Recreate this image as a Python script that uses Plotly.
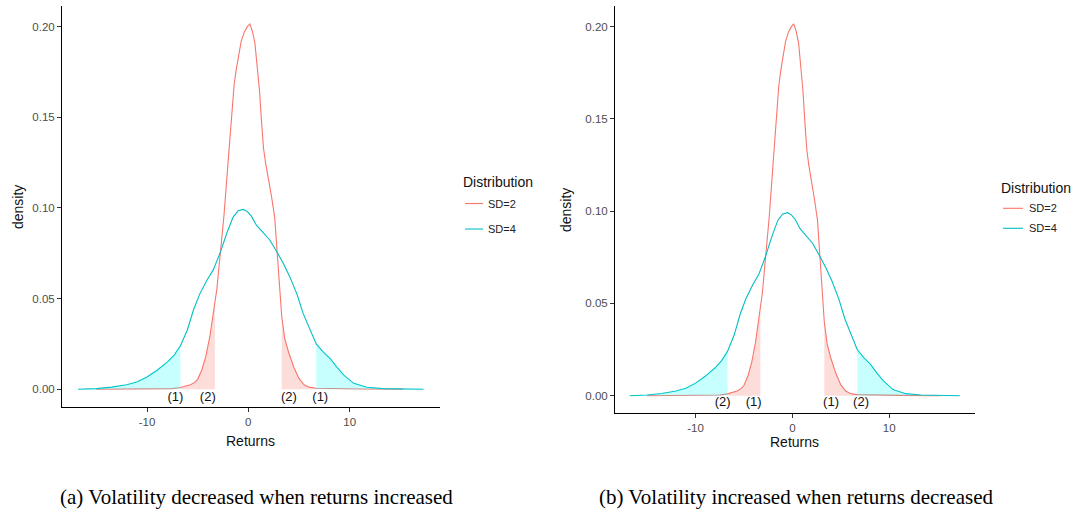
import numpy as np
import plotly.graph_objects as go

W, H = 1085, 509

# ---------------- data ----------------
series_names = ["SD=2", "SD=4"]
series_colors = ["#F8766D", "#00BFC4"]
fill_colors = ["rgba(248,118,109,0.25)", "rgba(0,255,255,0.22)"]

sd2_x = [-15.0, -12.0, -9.0, -7.5, -6.7, -6.2, -5.7, -5.3, -5.0, -4.6, -4.2, -3.8, -3.5, -3.3,
         -3.1, -2.8, -2.4, -2.0, -1.7, -1.4, -1.2, -1.0, -0.7, -0.4, -0.1, 0.15, 0.4, 0.65,
         0.9, 1.1, 1.3, 1.5, 1.7, 2.0, 2.3, 2.6, 2.8, 3.0, 3.3, 3.6, 4.0, 4.5, 5.0, 5.5,
         6.0, 6.7, 8.0, 11.0, 15.3]
sd2_y = [0.0000, 0.0002, 0.0003, 0.0004, 0.0010, 0.0018, 0.0025, 0.0038, 0.0055, 0.0105, 0.0180,
         0.0290, 0.0400, 0.0470, 0.0555, 0.0730, 0.0960, 0.1250, 0.1480, 0.1680, 0.1760, 0.1830,
         0.1920, 0.1970, 0.2000, 0.2015, 0.1975, 0.1910, 0.1770, 0.1650, 0.1480, 0.1330, 0.1250,
         0.1160, 0.1060, 0.0950, 0.0800, 0.0620, 0.0400, 0.0280, 0.0200, 0.0120, 0.0060, 0.0025,
         0.0012, 0.0006, 0.0004, 0.0002, 0.0000]

sd4_x = [-16.8, -15.0, -13.5, -12.0, -11.0, -10.0, -9.0, -8.0, -7.3, -6.7, -6.0, -5.4, -4.8,
         -4.1, -3.45, -2.8, -2.1, -1.5, -1.0, -0.5, -0.1, 0.3, 0.8, 1.5, 2.1, 2.8, 3.45, 4.1,
         4.8, 5.4, 6.1, 6.7, 7.4, 8.1, 8.7, 9.4, 10.4, 11.7, 13.3, 15.0, 16.0, 17.3]
sd4_y = [0.0000, 0.0004, 0.0012, 0.0025, 0.0040, 0.0068, 0.0105, 0.0150, 0.0190, 0.0240, 0.0330,
         0.0440, 0.0525, 0.0600, 0.0660, 0.0750, 0.0865, 0.0950, 0.0985, 0.0992, 0.0980, 0.0955,
         0.0905, 0.0860, 0.0825, 0.0760, 0.0695, 0.0620, 0.0525, 0.0420, 0.0325, 0.0250, 0.0205,
         0.0168, 0.0125, 0.0080, 0.0033, 0.0011, 0.0004, 0.0003, 0.0001, 0.0000]

# tail thresholds for shading
inner_cut = 3.3
outer_cut = 6.7

# tail labels
label_x = [-7.2, -4.0, 4.0, 7.1]
labels_a = ["(1)", "(2)", "(2)", "(1)"]
labels_b = ["(2)", "(1)", "(1)", "(2)"]

captions = ["(a) Volatility decreased when returns increased",
            "(b) Volatility increased when returns decreased"]

x_ticks = [-10, 0, 10]
x_tick_text = ["-10", "0", "10"]
y_ticks = [0.00, 0.05, 0.10, 0.15, 0.20]
legend_title = "Distribution"

# ---------------- layout geometry (pixels) ----------------
panels = [
    dict(x0=62, x1=440, y0=6, y1=407, xr=[-18.39, 18.92], yr=[-0.00976, 0.2114],
         labels=labels_a, label_y=-0.0048, caption_x=256,
         ytitle=(18, 207), xtitle=(250, 441),
         leg=dict(tx=463, ty=182, lx0=465, lx1=483, ly=[203.5, 229], textx=488)),
    dict(x0=615, x1=975, y0=6, y1=413.3, xr=[-18.32, 18.87], yr=[-0.00954, 0.2112],
         labels=labels_b, label_y=-0.0038, caption_x=796,
         ytitle=(566, 210), xtitle=(794, 442),
         leg=dict(tx=1001, ty=188, lx0=1003, lx1=1023, ly=[208.3, 228.3], textx=1029)),
]


def px(x):
    return x / W


def py(y):
    return 1 - y / H


fig = go.Figure()
annotations = []
shapes = []

curves = [(np.array(sd2_x), np.array(sd2_y)), (np.array(sd4_x), np.array(sd4_y))]
sans = "Liberation Sans, Arial"

for i, p in enumerate(panels):
    xa = "x" if i == 0 else "x2"
    ya = "y" if i == 0 else "y2"
    # lines
    for k, (cx, cy) in enumerate(curves):
        fig.add_trace(go.Scatter(x=cx, y=cy, mode="lines", xaxis=xa, yaxis=ya,
                                 line=dict(color=series_colors[k], width=1.1),
                                 showlegend=False, hoverinfo="skip"))
    # red (SD=2) shading between inner and outer cut
    cx, cy = curves[0]
    for sgn in (-1, 1):
        lo, hi = sorted([sgn * inner_cut, sgn * outer_cut])
        m = (cx >= lo) & (cx <= hi)
        fig.add_trace(go.Scatter(x=cx[m], y=cy[m], mode="lines", xaxis=xa, yaxis=ya,
                                 line=dict(width=0), fill="tozeroy",
                                 fillcolor=fill_colors[0], showlegend=False, hoverinfo="skip"))
    # cyan (SD=4) shading beyond outer cut
    cx, cy = curves[1]
    for m in ((cx <= -outer_cut), (cx >= outer_cut)):
        fig.add_trace(go.Scatter(x=cx[m], y=cy[m], mode="lines", xaxis=xa, yaxis=ya,
                                 line=dict(width=0), fill="tozeroy",
                                 fillcolor=fill_colors[1], showlegend=False, hoverinfo="skip"))
    # tail labels
    fig.add_trace(go.Scatter(x=label_x, y=[p["label_y"]] * len(label_x), mode="text",
                             text=p["labels"], xaxis=xa, yaxis=ya,
                             textfont=dict(family=sans, size=13, color="#111"),
                             showlegend=False, hoverinfo="skip"))

    # axis titles
    annotations.append(dict(x=px(p["ytitle"][0]), y=py(p["ytitle"][1]), xref="paper", yref="paper",
                            text="density", textangle=-90, showarrow=False,
                            xanchor="center", yanchor="middle",
                            font=dict(family=sans, size=14, color="#111")))
    annotations.append(dict(x=px(p["xtitle"][0]), y=py(p["xtitle"][1]), xref="paper", yref="paper",
                            text="Returns", showarrow=False,
                            xanchor="center", yanchor="middle",
                            font=dict(family=sans, size=14, color="#111")))
    # caption
    annotations.append(dict(x=px(p["caption_x"]), y=py(497), xref="paper", yref="paper",
                            text=captions[i], showarrow=False, xanchor="center", yanchor="middle",
                            font=dict(family="Liberation Serif, Times New Roman", size=21, color="#000")))
    # legend (manual)
    lg = p["leg"]
    annotations.append(dict(x=px(lg["tx"]), y=py(lg["ty"]), xref="paper", yref="paper",
                            text=legend_title, showarrow=False, xanchor="left", yanchor="middle",
                            xshift=-2,
                            font=dict(family=sans, size=14, color="#111")))
    for k, name in enumerate(series_names):
        shapes.append(dict(type="line", xref="paper", yref="paper",
                           x0=px(lg["lx0"]), x1=px(lg["lx1"]), y0=py(lg["ly"][k]), y1=py(lg["ly"][k]),
                           line=dict(color=series_colors[k], width=1.1)))
        annotations.append(dict(x=px(lg["textx"]), y=py(lg["ly"][k]), xref="paper", yref="paper",
                                text=name, showarrow=False, xanchor="left", yanchor="middle",
                                xshift=-2,
                                font=dict(family=sans, size=11, color="#222")))

axis_common = dict(showgrid=False, zeroline=False, showline=True, linecolor="#000", linewidth=1,
                   ticks="outside", ticklen=4, tickcolor="#333", tickwidth=1,
                   tickfont=dict(family=sans, size=11.5, color="#4d4d4d"))

fig.update_layout(
    width=W, height=H, margin=dict(l=0, r=0, t=0, b=0),
    paper_bgcolor="white", plot_bgcolor="white",
    showlegend=False,
    xaxis=dict(domain=[px(panels[0]["x0"]), px(panels[0]["x1"])], range=panels[0]["xr"],
               anchor="y", tickvals=x_ticks, ticktext=x_tick_text, **axis_common),
    yaxis=dict(domain=[py(panels[0]["y1"]), py(panels[0]["y0"])], range=panels[0]["yr"],
               anchor="x", tickvals=y_ticks, tickformat=".2f", **axis_common),
    xaxis2=dict(domain=[px(panels[1]["x0"]), px(panels[1]["x1"])], range=panels[1]["xr"],
                anchor="y2", tickvals=x_ticks, ticktext=x_tick_text, **axis_common),
    yaxis2=dict(domain=[py(panels[1]["y1"]), py(panels[1]["y0"])], range=panels[1]["yr"],
                anchor="x2", tickvals=y_ticks, tickformat=".2f", **axis_common),
    annotations=annotations, shapes=shapes,
)

fig.write_html("out.html")
